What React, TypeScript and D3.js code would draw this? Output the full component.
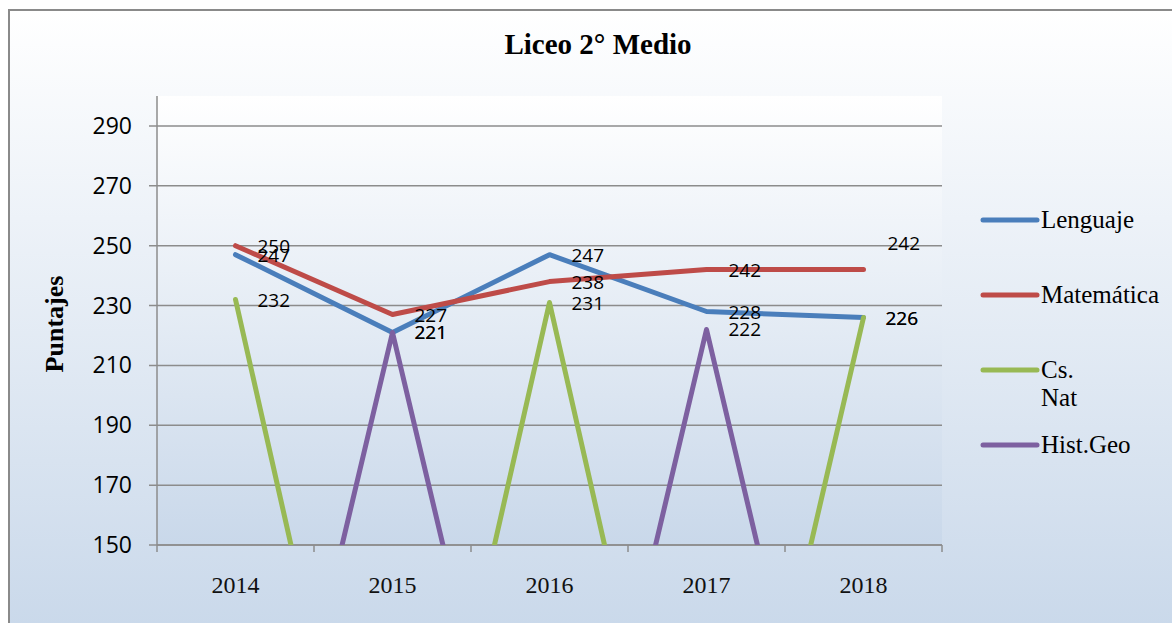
import React from "react";
import * as d3 from "d3";

const years = ["2014", "2015", "2016", "2017", "2018"];
const lenguaje = [247, 221, 247, 228, 226];
const matematica = [250, 227, 238, 242, 242];
const csNat = [232, 0, 231, 0, 226];
const histGeo = [0, 221, 0, 222, 0];
const yTicks = [150, 170, 190, 210, 230, 250, 270, 290];

const series = [
  { name: "Lenguaje", lines: ["Lenguaje"], values: lenguaje, color: "#4a7ebb" },
  { name: "Matemática", lines: ["Matemática"], values: matematica, color: "#be4b48" },
  { name: "Cs. Nat", lines: ["Cs.", "Nat"], values: csNat, color: "#98b954" },
  { name: "Hist.Geo", lines: ["Hist.Geo"], values: histGeo, color: "#7d60a0" },
];

const W = 1172;
const H = 623;
const plot = { left: 157, right: 942, top: 96, bottom: 545 };

export default function App() {
  const x = d3.scaleBand().domain(years).range([plot.left, plot.right]).padding(0);
  const y = d3.scaleLinear().domain([150, 300]).range([plot.bottom, plot.top]);
  const cx = (c: string) => (x(c) as number) + x.bandwidth() / 2;

  const line = d3
    .line<number>()
    .x((_, i) => cx(years[i]))
    .y((v) => y(v));

  const legendY = [220, 295, 370, 445];
  const serif = "'Liberation Serif', 'Times New Roman', serif";
  const sans = "'Open Sans', 'Noto Sans', sans-serif";

  // manual nudge for one label (Matemática 2018 placed above in the original)
  const nudge = (si: number, i: number) =>
    si === 1 && i === years.length - 1 ? { dx: 2, dy: -27 } : { dx: 0, dy: 0 };

  return (
    <svg
      width={W}
      height={H}
      style={{ position: "absolute", left: 0, top: 0 }}
      xmlns="http://www.w3.org/2000/svg"
    >
      <defs>
        <linearGradient id="chartBg" x1="0" y1="0" x2="0" y2="1">
          <stop offset="0%" stopColor="#ffffff" />
          <stop offset="100%" stopColor="#c6d6e9" />
        </linearGradient>
        <linearGradient id="plotBg" x1="0" y1="0" x2="0" y2="1">
          <stop offset="0%" stopColor="#ffffff" />
          <stop offset="100%" stopColor="#c9d8ea" />
        </linearGradient>
        <clipPath id="plotClip">
          <rect x={plot.left} y={plot.top} width={plot.right - plot.left} height={plot.bottom - plot.top} />
        </clipPath>
      </defs>

      <rect x={0} y={0} width={W} height={H} fill="#ffffff" />
      <rect x={9} y={10} width={1250} height={660} fill="url(#chartBg)" stroke="#8a8a8a" strokeWidth={2} />
      <rect
        x={plot.left}
        y={plot.top}
        width={plot.right - plot.left}
        height={plot.bottom - plot.top}
        fill="url(#plotBg)"
      />

      {/* title */}
      <text x={598} y={54} textAnchor="middle" fontFamily={serif} fontWeight="bold" fontSize={29} fill="#000">
        Liceo 2° Medio
      </text>

      {/* y axis title */}
      <text
        transform={`translate(63, 324) rotate(-90)`}
        textAnchor="middle"
        fontFamily={serif}
        fontWeight="bold"
        fontSize={26}
        fill="#000"
      >
        Puntajes
      </text>

      {/* gridlines & y ticks */}
      {yTicks.map((t) => (
        <g key={t}>
          <line x1={plot.left - 8} x2={plot.right} y1={y(t)} y2={y(t)} stroke="#8c8c8c" strokeWidth={1.5} />
          <text x={132} y={y(t) + 8} textAnchor="end" fontFamily={sans} fontSize={23} fill="#000">
            {t}
          </text>
        </g>
      ))}

      {/* axes */}
      <line x1={plot.left} x2={plot.left} y1={plot.top} y2={plot.bottom} stroke="#8c8c8c" strokeWidth={1.5} />
      <line x1={plot.left} x2={plot.right} y1={plot.bottom} y2={plot.bottom} stroke="#8c8c8c" strokeWidth={1.5} />
      {years.concat(["end"]).map((c, i) => {
        const xx = i < years.length ? (x(c) as number) : plot.right;
        return <line key={c} x1={xx} x2={xx} y1={plot.bottom} y2={plot.bottom + 7} stroke="#8c8c8c" strokeWidth={1.5} />;
      })}
      {years.map((c) => (
        <text key={c} x={cx(c)} y={593} textAnchor="middle" fontFamily={serif} fontSize={24} fill="#111">
          {c}
        </text>
      ))}

      {/* lines */}
      <g clipPath="url(#plotClip)">
        {series.map((s) => (
          <path
            key={s.name}
            d={line(s.values) || ""}
            fill="none"
            stroke={s.color}
            strokeWidth={5}
            strokeLinejoin="round"
            strokeLinecap="round"
          />
        ))}
      </g>

      {/* data labels */}
      {series.map((s, si) =>
        s.values.map((v, i) => {
          if (v < 150) return null;
          const n = nudge(si, i);
          return (
            <text
              key={s.name + i}
              x={cx(years[i]) + 22 + n.dx}
              y={y(v) + 7 + n.dy}
              fontFamily={sans}
              fontSize={19}
              fill="#000"
            >
              {v}
            </text>
          );
        })
      )}

      {/* legend */}
      {series.map((s, si) => (
        <g key={s.name}>
          <line
            x1={983}
            x2={1037}
            y1={legendY[si]}
            y2={legendY[si]}
            stroke={s.color}
            strokeWidth={5}
            strokeLinecap="round"
          />
          <text x={1041} y={legendY[si] + 8} fontFamily={serif} fontSize={25} fill="#000">
            {s.lines.map((l, li) => (
              <tspan key={li} x={1041} dy={li === 0 ? 0 : 28}>
                {l}
              </tspan>
            ))}
          </text>
        </g>
      ))}
    </svg>
  );
}
